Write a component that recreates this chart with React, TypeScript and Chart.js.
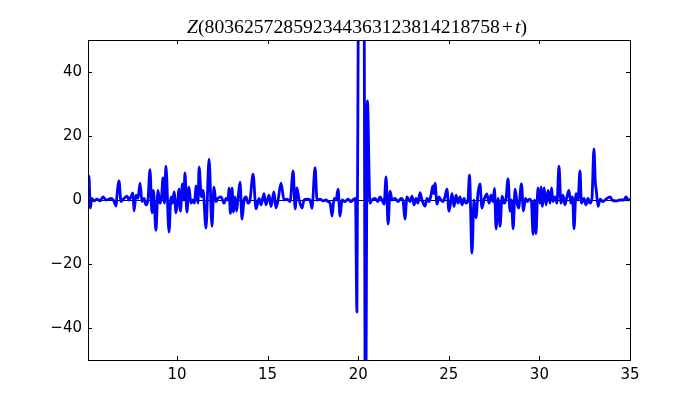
import React, { useEffect, useRef } from "react";
import { Chart, registerables } from "chart.js";

Chart.register(...registerables);

// t values (x axis) and Z values (y axis)
const tValues: number[] = [
  5.09, 5.14, 5.22, 5.30, 5.42, 5.59, 5.75, 5.92, 6.08, 6.25, 6.36, 6.52, 6.64, 6.69, 6.80, 6.91,
  7.08, 7.24, 7.35, 7.46, 7.57, 7.63, 7.74, 7.85, 7.96, 8.07, 8.18, 8.29, 8.40, 8.51, 8.62, 8.70,
  8.84, 8.95, 9.06, 9.15, 9.23, 9.31, 9.39, 9.56, 9.67, 9.75, 9.84, 9.95, 10.06, 10.11, 10.19, 10.30,
  10.38, 10.44, 10.55, 10.66, 10.77, 10.88, 10.97, 11.05, 11.16, 11.22, 11.35, 11.44, 11.60, 11.77,
  11.93, 12.04, 12.15, 12.26, 12.43, 12.60, 12.71, 12.82, 12.87, 12.95, 13.04, 13.12, 13.20, 13.29,
  13.37, 13.48, 13.59, 13.70, 13.81, 13.92, 14.03, 14.20, 14.36, 14.53, 14.64, 14.80, 14.91, 15.08,
  15.19, 15.35, 15.46, 15.58, 15.74, 15.91, 16.07, 16.24, 16.41, 16.52, 16.62, 16.74, 16.90, 17.01,
  17.18, 17.34, 17.45, 17.62, 17.73, 17.89, 18.06, 18.22, 18.34, 18.45, 18.56, 18.67, 18.78, 18.89,
  19.00, 19.11, 19.27, 19.44, 19.60, 19.71, 19.85, 19.93, 20.02, 20.17, 20.32, 20.40, 20.51, 20.65,
  20.76, 20.93, 21.09, 21.20, 21.32, 21.43, 21.54, 21.65, 21.76, 21.87, 22.03, 22.20, 22.36, 22.47,
  22.58, 22.69, 22.86, 22.97, 23.08, 23.19, 23.30, 23.41, 23.52, 23.69, 23.80, 23.91, 24.02, 24.12,
  24.18, 24.24, 24.35, 24.46, 24.57, 24.68, 24.79, 24.90, 25.01, 25.12, 25.18, 25.29, 25.40, 25.51,
  25.62, 25.73, 25.84, 25.95, 26.06, 26.14, 26.28, 26.39, 26.50, 26.61, 26.72, 26.83, 26.94, 27.10,
  27.22, 27.33, 27.44, 27.52, 27.61, 27.72, 27.83, 27.94, 28.05, 28.16, 28.27, 28.38, 28.46, 28.55,
  28.66, 28.77, 28.85, 29.01, 29.12, 29.23, 29.34, 29.45, 29.56, 29.65, 29.73, 29.81, 29.92, 30.03,
  30.09, 30.17, 30.26, 30.37, 30.48, 30.59, 30.67, 30.75, 30.86, 30.97, 31.08, 31.19, 31.30, 31.41,
  31.52, 31.63, 31.74, 31.83, 31.91, 32.02, 32.13, 32.24, 32.32, 32.46, 32.57, 32.68, 32.79, 32.90,
  33.01, 33.09, 33.14, 33.24, 33.35, 33.51, 33.68, 33.90, 34.01, 34.23, 34.45, 34.67, 34.78, 34.89,
  35.00,
];

const zValues: number[] = [
  2, 7.5, -2.5, 0.5, -0.3, 0.3, -0.3, 1, 0, 0.3, 0.5, -0.3, -1.9, 1.5, 6, -0.5,
  0.5, 1.2, 0, 1, 2.2, -3.4, 1.5, 0.5, 5.3, -0.5, 0.5, -1.5, 0, 9.5, -4, 3,
  -9.5, 3, -1, 1, 6.9, -1, 10.6, -10, 1, -1, 2.5, -4, 1, 3.4, -3.5, 5,
  0, 8.5, -3.8, 4, -1, 0, -1, 4.4, -1, 10.3, 1, 3, -8.8, 12.8,
  -8.2, 4, -0.5, 0.5, 1, -1, 0.5, 0, 3.7, -4.2, 3.7, -3.8, 1, -3.5,
  0.5, 5.6, -6, 0, 1, -1, 0, 8.1, -2.8, 0.5, -1.5, 2, -1.5, 1.5,
  -2, 2.5, -2.5, 0, 5.3, 0, 0.3, -0.5, 9.1, -2.8, 3.8, 0, -2.5, 0,
  0.3, 0, -2.6, 10.1, 0, 0.3, -0.3, 0, -0.5, -1, -5, 0.5, 0, 3.4,
  -5, 0, -0.5, 0.3, -0.5, 0, 0.5, -35, 80, 130, 80, -80, 31, -1,
  0, 0.5, -0.5, 1, 0, -1.3, 7.2, -7.5, 2.8, 0, 0.5, -0.5, 0.5, 0,
  -6, 1, -0.5, 1.2, -1.5, 0.5, -1, 2.3, 0, -1.9, 0.5, -0.5, 1.5, 4.4,
  2, 5.3, -1.3, 1, 0, -0.5, 1, 3.4, -3.5, 0, 2, -2, 1.5, -1,
  1, -1.5, 0.5, -1, 0, 7.8, -16.6, 0, -5.6, 2, 5, -2.5, 0, 1.9,
  -1, 1.5, -0.5, 3.6, -9, 0.5, -8.2, 1.2, -1, 0.5, 6.6, -3.5, 0, -9,
  3.4, -1, -2.5, 5, -3.4, 0.5, -0.5, 0.3, -0.5, -10.7, 0, -10.5, 3.8, -1,
  4, -2, 3.8, -1.5, 3, -1, 3.8, -0.5, 1, -1, 10.6, -1, 1.5, -1.5,
  1, 3, -1, 1, -9, 2, 0, 9.1, -1, 0.5, -1.5, 0.5, -1, 0.5,
  16, 5.3, 3, -2, 0.3, -0.5, 0.3, 1, 0, -0.3, 0, 0, 1, 0,
  0.2,
];

const xTickValues = [10, 15, 20, 25, 30, 35];
const yTickValues = [-40, -20, 0, 20, 40];
const xRange = [5.09, 35];
const yRange = [-50, 50];

const titleParts = [
  { text: "Z", italic: true, gapAfter: 0 },
  { text: "(803625728592344363123814218758", italic: false, gapAfter: 2 },
  { text: "+", italic: false, gapAfter: 2 },
  { text: "t", italic: true, gapAfter: 0 },
  { text: ")", italic: false, gapAfter: 0 },
];

const minus = (v: number) => String(v).replace("-", "\u2212");

const framePlugin = {
  id: "frameTicks",
  beforeDatasetsDraw(chart: any) {
    const { ctx, chartArea } = chart;
    const y0 = chart.scales.y.getPixelForValue(0);
    ctx.save();
    ctx.strokeStyle = "#000";
    ctx.lineWidth = 1;
    ctx.beginPath();
    ctx.moveTo(chartArea.left, Math.round(y0) + 0.5);
    ctx.lineTo(chartArea.right, Math.round(y0) + 0.5);
    ctx.stroke();
    ctx.restore();
  },
  afterDraw(chart: any) {
    const { ctx, chartArea } = chart;
    const { left, right, top, bottom } = chartArea;
    ctx.save();
    ctx.strokeStyle = "#000";
    ctx.lineWidth = 1;
    ctx.strokeRect(Math.round(left) + 0.5, Math.round(top) + 0.5, Math.round(right - left), Math.round(bottom - top));
    const len = 4;
    ctx.beginPath();
    for (const t of chart.scales.x.ticks) {
      const px = Math.round(chart.scales.x.getPixelForValue(t.value)) + 0.5;
      ctx.moveTo(px, bottom);
      ctx.lineTo(px, bottom - len);
      ctx.moveTo(px, top);
      ctx.lineTo(px, top + len);
    }
    for (const t of chart.scales.y.ticks) {
      const py = Math.round(chart.scales.y.getPixelForValue(t.value)) + 0.5;
      ctx.moveTo(left, py);
      ctx.lineTo(left + len, py);
      ctx.moveTo(right, py);
      ctx.lineTo(right - len, py);
    }
    ctx.stroke();

    // title
    const size = 19.7;
    const fam = "'Liberation Serif', 'DejaVu Serif', serif";
    let total = 0;
    const widths = titleParts.map((p) => {
      ctx.font = `${p.italic ? "italic " : ""}${size}px ${fam}`;
      const w = ctx.measureText(p.text).width;
      total += w + p.gapAfter;
      return w;
    });
    let x = (left + right) / 2 - total / 2 - 2;
    ctx.fillStyle = "#000";
    ctx.textBaseline = "alphabetic";
    ctx.textAlign = "left";
    titleParts.forEach((p, i) => {
      ctx.font = `${p.italic ? "italic " : ""}${size}px ${fam}`;
      ctx.fillText(p.text, x, 33);
      x += widths[i] + p.gapAfter;
    });
    ctx.restore();
  },
};

export default function App() {
  const ref = useRef<HTMLCanvasElement | null>(null);
  useEffect(() => {
    if (!ref.current) return;
    const data = tValues.map((t, i) => ({ x: t, y: zValues[i] }));
    const tickFont = { family: "'DejaVu Sans', sans-serif", size: 15 };
    const chart = new Chart(ref.current, {
      type: "line",
      data: {
        datasets: [
          {
            data,
            borderColor: "#0000ff",
            borderWidth: 2.8,
            borderJoinStyle: "round",
            pointRadius: 0,
            cubicInterpolationMode: "monotone",
            fill: false,
            clip: 0,
          } as any,
        ],
      },
      options: {
        animation: false,
        responsive: false,
        layout: { padding: { left: 0, right: 70, top: 40, bottom: 0 } },
        plugins: { legend: { display: false }, tooltip: { enabled: false }, title: { display: false } },
        scales: {
          x: {
            type: "linear",
            min: xRange[0],
            max: xRange[1],
            grid: { display: false, drawTicks: false },
            border: { display: false },
            ticks: { color: "#000", font: tickFont, padding: 6, autoSkip: false, maxRotation: 0, callback: (v: any) => minus(v) },
            afterBuildTicks: (s: any) => { s.ticks = xTickValues.map((v) => ({ value: v })); },
            afterFit: (s: any) => { s.height = 40; },
          },
          y: {
            type: "linear",
            min: yRange[0],
            max: yRange[1],
            grid: { display: false, drawTicks: false },
            border: { display: false },
            ticks: { color: "#000", font: tickFont, padding: 6, autoSkip: false, callback: (v: any) => minus(v) },
            afterBuildTicks: (s: any) => { s.ticks = yTickValues.map((v) => ({ value: v })); },
            afterFit: (s: any) => { s.width = 88; },
          },
        },
      } as any,
      plugins: [framePlugin],
    });
    return () => chart.destroy();
  }, []);
  return (
    <div style={{ position: "absolute", left: 0, top: 0, width: 700, height: 400, background: "#fff" }}>
      <canvas ref={ref} width={700} height={400} style={{ display: "block" }} />
    </div>
  );
}
